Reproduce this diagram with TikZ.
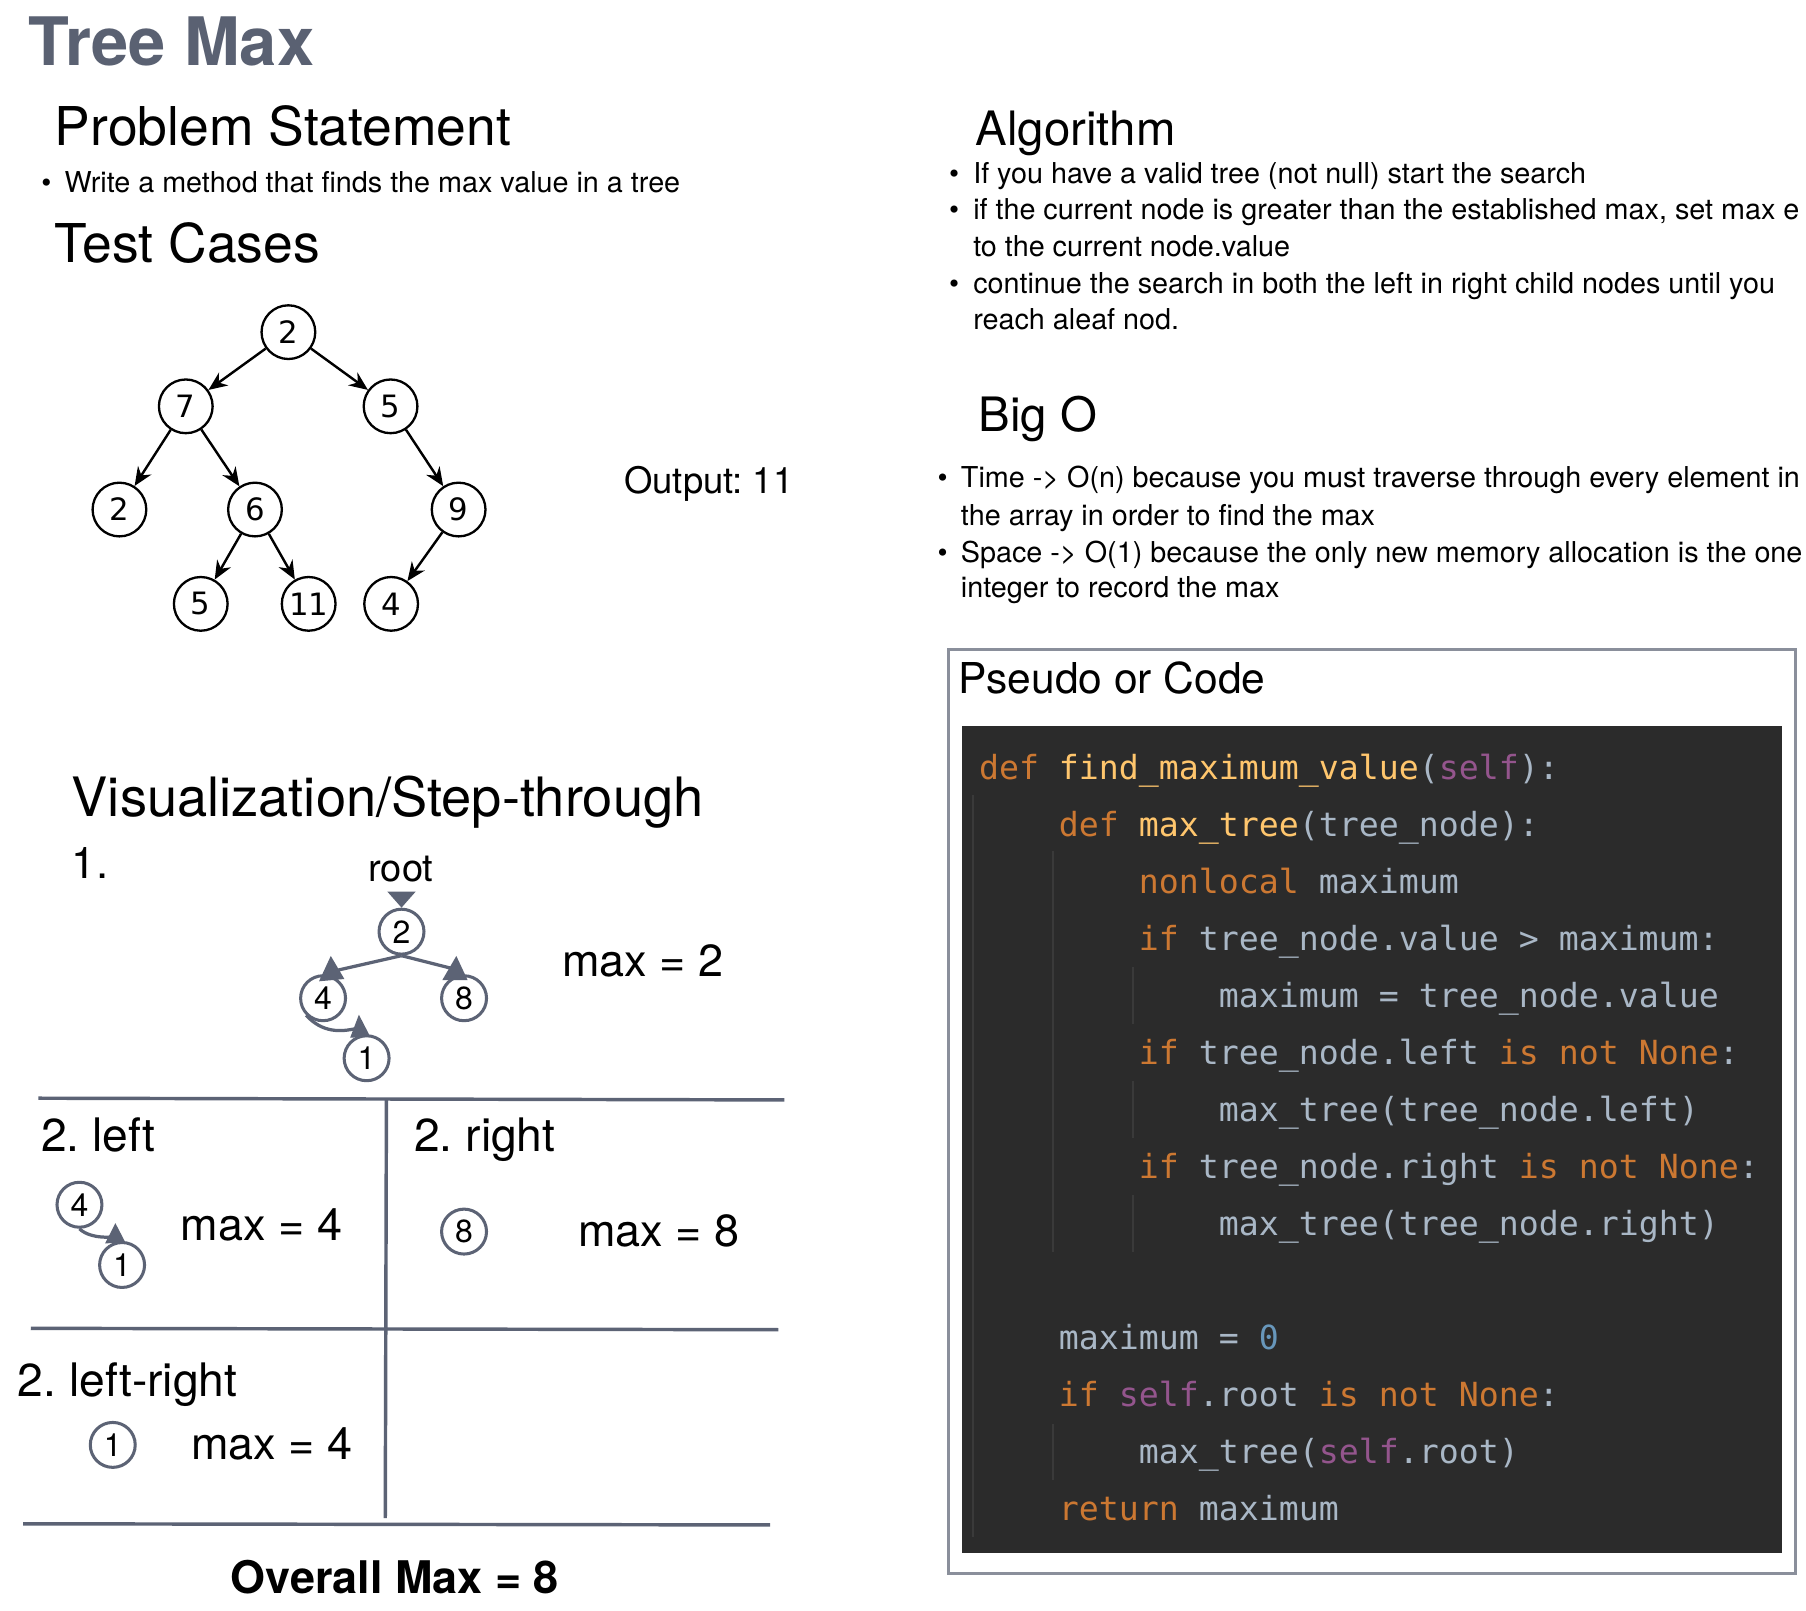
\documentclass[tikz,border=0pt]{standalone}
\usepackage{fontspec}
\setmainfont{TeX Gyre Heros}
\setmonofont{DejaVu Sans Mono}
\newfontfamily\dejavu{DejaVu Sans}
\usetikzlibrary{arrows.meta}
\newcommand{\myfs}[1]{\fontsize{#1}{#1}\selectfont}
\definecolor{titlec}{RGB}{90,97,114}
\definecolor{vcol}{RGB}{92,99,117}
\definecolor{boxc}{RGB}{138,143,155}
\definecolor{codebg}{HTML}{2B2B2B}
\definecolor{guidec}{HTML}{3A3A3A}
\definecolor{kwc}{HTML}{CC7832}
\definecolor{fnc}{HTML}{FFC66D}
\definecolor{idc}{HTML}{A9B7C6}
\definecolor{slfc}{HTML}{94558D}
\definecolor{numc}{HTML}{6897BB}
\newcommand{\ckw}[1]{\textcolor{kwc}{#1}}
\newcommand{\cfn}[1]{\textcolor{fnc}{#1}}
\newcommand{\cself}[1]{\textcolor{slfc}{#1}}
\newcommand{\cnum}[1]{\textcolor{numc}{#1}}
\begin{document}
\frenchspacing
\begin{tikzpicture}[x=0.01cm,y=-0.01cm,
  txt/.style={anchor=base west,inner sep=0pt,outer sep=0pt},
  head/.style={txt,font=\myfs{13.2pt}},
  rhead/.style={txt,font=\myfs{11.7pt}},
  btxt/.style={txt,font=\myfs{7.1pt}},
  mtxt/.style={txt,font=\myfs{11.1pt}},
  tnode/.style={circle,draw,line width=0.57pt,minimum size=0.466cm,inner sep=0pt,font=\dejavu\myfs{7.6pt}},
  tedge/.style={-{Stealth[length=4.6pt,width=3.9pt]},line width=0.6pt},
  vnode/.style={circle,draw=vcol,line width=0.75pt,minimum size=0.39cm,inner sep=0pt,font=\myfs{7.9pt}},
  vline/.style={draw=vcol,line width=0.8pt},
  vtip/.style={fill=vcol},
  rulel/.style={draw=vcol,line width=0.85pt},
  code/.style={txt,font=\ttfamily\frenchspacing\myfs{8.2pt},text=idc},
  guide/.style={draw=guidec,line width=0.5pt}
]
\path[use as bounding box] (0,0) rectangle (1568,1398);
\fill[white] (0,0) rectangle (1568,1398);
\clip (0,0) rectangle (1568,1398);

% ---------- left column ----------
\node[txt,font=\bfseries\myfs{16.5pt},text=titlec] (title) at (25,57) {Tree Max};
\node[head] (ps) at (47.7,126.6) {Problem Statement};
\node[btxt] (psb) at (36,166.8) {\textbullet};
\node[btxt] (pst) at (56,166.8) {Write a method that finds the max value in a tree};
\node[head] (tc) at (47.7,228) {Test Cases};

\node[tnode] (t2) at (250.4,288.4) {2};
\node[tnode] (t7) at (161.3,352.8) {7};
\node[tnode] (t5) at (339.1,352.8) {5};
\node[tnode] (t2b) at (103.7,442.4) {2};
\node[tnode] (t6) at (221.4,442.4) {6};
\node[tnode] (t9) at (398.2,442.4) {9};
\node[tnode] (t5b) at (174.3,524.3) {5};
\node[tnode] (t11) at (268,524.3) {11};
\node[tnode] (t4) at (339.6,524.3) {4};
\draw[tedge] (t2) -- (t7);
\draw[tedge] (t2) -- (t5);
\draw[tedge] (t7) -- (t2b);
\draw[tedge] (t7) -- (t6);
\draw[tedge] (t5) -- (t9);
\draw[tedge] (t6) -- (t5b);
\draw[tedge] (t6) -- (t11);
\draw[tedge] (t9) -- (t4);

\node[txt,font=\myfs{9pt}] (out) at (542,428.8) {Output: 11};

% ---------- visualization ----------
\node[txt,font=\myfs{13.4pt}] (viz) at (62.3,709) {Visualization/Step-through};
\node[txt,font=\myfs{10.8pt}] (one) at (62.3,762.6) {1.};
\node[anchor=base,inner sep=0pt,font=\myfs{9.4pt}] (root) at (348,765.5) {root};
\node[vnode] (v2) at (348.6,808.9) {2};
\node[vnode] (v4) at (280.5,866.7) {4};
\node[vnode] (v8) at (402.9,866.7) {8};
\node[vnode] (v1) at (318.3,918.8) {1};
\coordinate (rtip) at (348.6,775);
\draw[vline,-{Triangle[length=0.14cm,width=0.24cm]},fill=vcol] (rtip) -- (v2.north);
\coordinate (a4) at (293.8,842.2);
\coordinate (a8) at (391.8,840.7);
\coordinate (a1) at (309,893);
\draw[vline] (v2.south) -- (a4);
\draw[vline] (v2.south) -- (a8);
\draw[vline] (v4.south west) .. controls (280,897) and (296,896) .. (a1);
\fill[vtip] (287.2,830) -- (299,850) -- (277,852) -- cycle;
\fill[vtip] (396.2,830) -- (406,851) -- (384,851) -- cycle;
\fill[vtip] (311.6,881) -- (321.4,900) -- (304,901) -- cycle;
\node[mtxt] (m2) at (488,847.9) {max = 2};

\draw[rulel] (33.4,953.5) -- (681,955);
\draw[rulel] (335.5,955) -- (334.5,1318);
\draw[rulel] (26.7,1153.3) -- (675.8,1154.5);
\draw[rulel] (20,1323) -- (668.7,1324);

\node[txt,font=\myfs{11.4pt}] (sl) at (35.6,999.9) {2. left};
\node[txt,font=\myfs{11.4pt}] (sr) at (359.7,1000) {2. right};
\node[vnode] (l4) at (69,1046) {4};
\node[vnode] (l1) at (106,1098.3) {1};
\coordinate (b1) at (97,1074);
\draw[vline] (l4.south) .. controls (74,1072) and (85,1075) .. (b1);
\fill[vtip] (100.2,1062) -- (109,1079) -- (91.3,1079.5) -- cycle;
\node[mtxt] (m4) at (157,1077.2) {max = 4};
\node[vnode] (r8) at (402.9,1069.3) {8};
\node[mtxt] (m8) at (502,1082.3) {max = 8};

\node[txt,font=\myfs{11.4pt}] (slr) at (15.6,1212.5) {2. left-right};
\node[vnode] (lr1) at (97.9,1254.5) {1};
\node[mtxt] (m4b) at (166,1267.5) {max = 4};

\node[txt,font=\bfseries\myfs{11.1pt}] (overall) at (200.3,1383.3) {Overall Max = 8};

% ---------- right column ----------
\node[rhead] (alg) at (847,126.6) {Algorithm};
\node[btxt] (ab1) at (824,159.2) {\textbullet};
\node[btxt] (at1) at (845,159.2) {If you have a valid tree (not null) start the search};
\node[btxt] (ab2) at (824,191) {\textbullet};
\node[btxt] (at2) at (845,191) {if the current node is greater than the established max, set max e};
\node[btxt] (at3) at (845,222.5) {to the current node.value};
\node[btxt] (ab4) at (824,255) {\textbullet};
\node[btxt] (at4) at (845,255) {continue the search in both the left in right child nodes until you};
\node[btxt] (at5) at (845,285.8) {reach aleaf nod.};

\node[rhead] (bigo) at (849.5,374.5) {Big O};
\node[btxt] (bb1) at (814,423.3) {\textbullet};
\node[btxt] (bt1) at (834.3,423.3) {Time -> O(n) because you must traverse through every element in};
\node[btxt] (bt2) at (834.3,455.9) {the array in order to find the max};
\node[btxt] (bb3) at (814,488.4) {\textbullet};
\node[btxt] (bt3) at (834.3,488.4) {Space -> O(1) because the only new memory allocation is the one};
\node[btxt] (bt4) at (834.3,519.2) {integer to record the max};

% ---------- code box ----------
\draw[boxc,line width=0.75pt] (823.5,564) rectangle (1559,1366);
\node[txt,font=\myfs{10.5pt}] (pc) at (832,601.9) {Pseudo or Code};
\fill[codebg] (835.5,630) rectangle (1547,1348);

% indent guides (line k baseline = 677 + 49.5 k)
\draw[guide] (845,690) -- (845,1334.5);
\draw[guide] (914.4,739) -- (914.4,1087);
\draw[guide] (914.4,1236) -- (914.4,1285);
\draw[guide] (983.8,839.5) -- (983.8,889);
\draw[guide] (983.8,938.5) -- (983.8,988);
\draw[guide] (983.8,1037.5) -- (983.8,1087);

\node[code] (c0) at (850,677) {\ckw{def} \cfn{find\_maximum\_value}(\cself{self}):};
\node[code] (c1) at (919.4,726.5) {\ckw{def} \cfn{max\_tree}(tree\_node):};
\node[code] (c2) at (988.8,776) {\ckw{nonlocal} maximum};
\node[code] (c3) at (988.8,825.5) {\ckw{if} tree\_node.value > maximum:};
\node[code] (c4) at (1058.3,875) {maximum = tree\_node.value};
\node[code] (c5) at (988.8,924.5) {\ckw{if} tree\_node.left \ckw{is not None}:};
\node[code] (c6) at (1058.3,974) {max\_tree(tree\_node.left)};
\node[code] (c7) at (988.8,1023.5) {\ckw{if} tree\_node.right \ckw{is not None}:};
\node[code] (c8) at (1058.3,1073) {max\_tree(tree\_node.right)};
\node[code] (c10) at (919.4,1172) {maximum = \cnum{0}};
\node[code] (c11) at (919.4,1221.5) {\ckw{if} \cself{self}.root \ckw{is not None}:};
\node[code] (c12) at (988.8,1271) {max\_tree(\cself{self}.root)};
\node[code] (c13) at (919.4,1320.5) {\ckw{return} maximum};
\end{tikzpicture}
\end{document}
